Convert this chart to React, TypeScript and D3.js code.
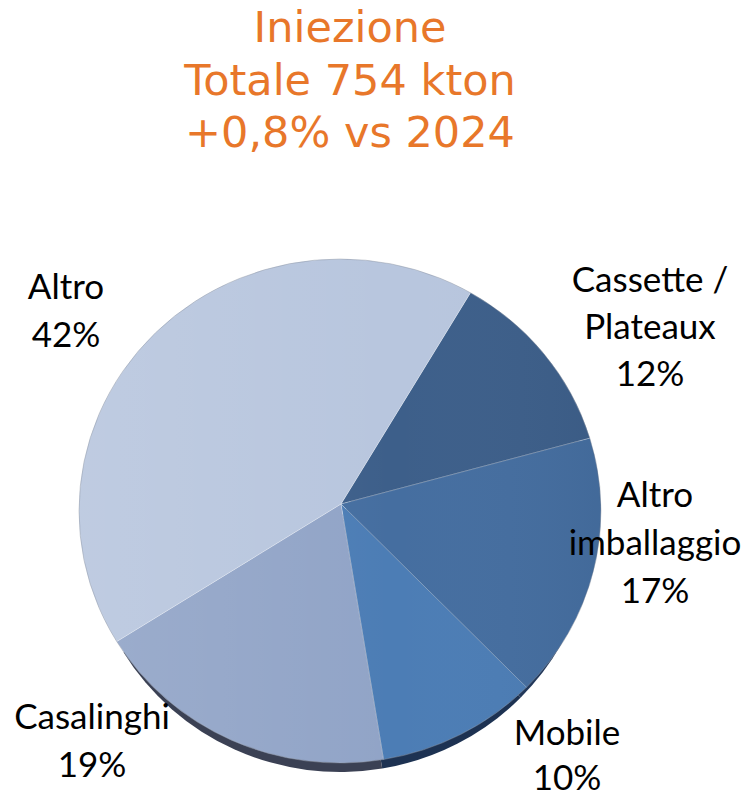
import React from "react";
import * as d3 from "d3";

// ---- data ----
const categories = ["Cassette / Plateaux", "Altro imballaggio", "Mobile", "Casalinghi", "Altro"];
const labelLines = [["Cassette /", "Plateaux"], ["Altro", "imballaggio"], ["Mobile"], ["Casalinghi"], ["Altro"]];
const shares = [12, 17, 10, 19, 42];
const titleLines = ["Iniezione", "Totale 754 kton", "+0,8% vs 2024"];

// ---- styles / layout ----
const topColors = ["#3d5f8a", "#456ea0", "#4c7db5", "#91a4c7", "#b8c6de"];
const sideColors = ["#1e2f48", "#22385a", "#1d3252", "#3b4154", "#5a6478"];
const labelPos: [number, number][] = [
  [650, 292],
  [655, 507],
  [567, 745],
  [92, 729],
  [66, 299],
];
const labelGap = [47, 48, 45, 48, 48];

const W = 751;
const H = 799;
const cx = 340;
const cy = 511;
const rx = 261;
const ry = 252;
const apex: [number, number] = [341, 504];
const depth = 13;

function slicePath(a0: number, a1: number, ccx: number, ccy: number, erx: number, ery: number, ax: number, ay: number) {
  const p = d3.path();
  const pt = (t: number): [number, number] => [ccx + erx * Math.sin(t), ccy - ery * Math.cos(t)];
  const s = pt(a0);
  const e = pt(a1);
  p.moveTo(ax, ay);
  p.lineTo(s[0], s[1]);
  const large = a1 - a0 > Math.PI ? 1 : 0;
  return p.toString() + `A${erx},${ery} 0 ${large} 1 ${e[0]},${e[1]}Z`;
}

export default function App() {
  const pie = d3
    .pie<number>()
    .sort(null)
    .startAngle((30 * Math.PI) / 180)
    .endAngle((30 * Math.PI) / 180 + 2 * Math.PI);
  const arcs = pie(shares);

  return (
    <svg
      width={W}
      height={H}
      style={{ position: "absolute", left: 0, top: 0, background: "#fff" }}
    >
      <defs>
        <linearGradient id="shade" x1="0" y1="0" x2="1" y2="0">
          <stop offset="0" stopColor="#ffffff" stopOpacity={0.1} />
          <stop offset="0.6" stopColor="#ffffff" stopOpacity={0} />
          <stop offset="1" stopColor="#000000" stopOpacity={0.04} />
        </linearGradient>
      </defs>

      {/* title */}
      <g fill="#e8772a" fontFamily="'DejaVu Sans', Verdana, sans-serif" fontSize={43} textAnchor="middle">
        {titleLines.map((t, i) => (
          <text key={i} x={350} y={42 + i * 52.5}>
            {t}
          </text>
        ))}
      </g>

      {/* pie sides */}
      <g>
        {arcs.map((a, i) =>
          i === 4 ? null : (
            <path
              key={"s" + i}
              d={slicePath(a.startAngle, a.endAngle, cx, cy + depth, rx - 8, ry - 4, apex[0], apex[1] + depth)}
              fill={sideColors[i]}
            />
          )
        )}
      </g>

      {/* pie tops */}
      <g>
        {arcs.map((a, i) => (
          <path
            key={"t" + i}
            d={slicePath(a.startAngle, a.endAngle, cx, cy, rx, ry, apex[0], apex[1])}
            fill={topColors[i]}
            stroke="rgba(255,255,255,0.25)"
            strokeWidth={1}
          />
        ))}
        <ellipse cx={cx} cy={cy} rx={rx} ry={ry} fill="url(#shade)" stroke="rgba(60,70,90,0.25)" strokeWidth={1} />
      </g>

      {/* labels */}
      <g fontFamily="Lato, 'Open Sans', sans-serif" fontSize={35} fill="#000" textAnchor="middle">
        {labelLines.map((lines, i) => {
          const all = [...lines, `${shares[i]}%`];
          return (
            <text key={"l" + i} x={labelPos[i][0]} y={labelPos[i][1]}>
              {all.map((ln, j) => (
                <tspan key={j} x={labelPos[i][0]} dy={j === 0 ? 0 : labelGap[i]}>
                  {ln}
                </tspan>
              ))}
            </text>
          );
        })}
      </g>
    </svg>
  );
}
